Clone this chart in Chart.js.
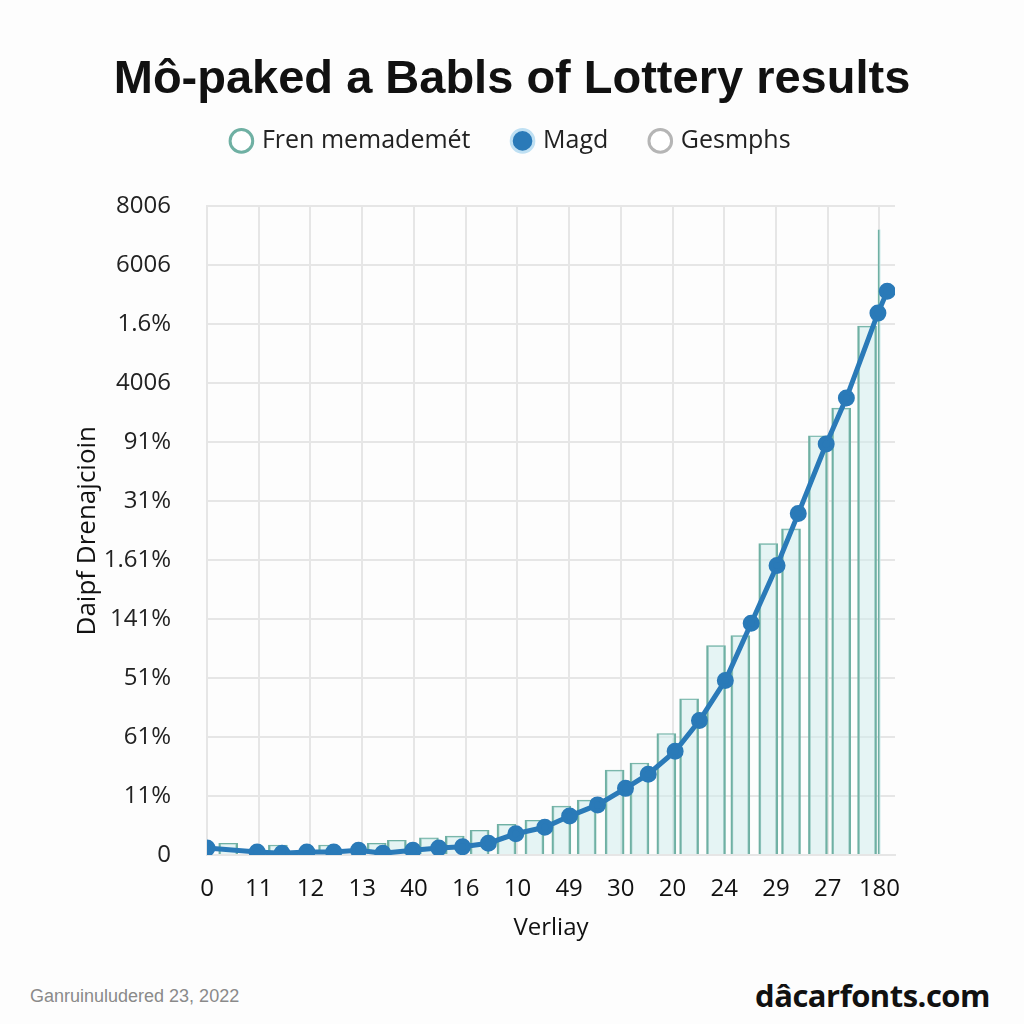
<!DOCTYPE html>
<html>
<head>
<meta charset="utf-8">
<script src="https://cdn.jsdelivr.net/npm/chart.js@4.4.1/dist/chart.umd.min.js"></script>
<style>
  html, body { margin: 0; padding: 0; background: #fdfdfd; }
  #wrap { position: relative; width: 1024px; height: 1024px; }
  #chart { position: absolute; left: 0; top: 0; }
  .foot-left { position: absolute; left: 30px; top: 986px; font: 18px "Liberation Sans", Arial, sans-serif; color: #8a8a8a; }
  .foot-right { position: absolute; right: 34px; top: 974px; font: bold 31px "Open Sans", "Liberation Sans", sans-serif; color: #111; letter-spacing: -0.5px; }
</style>
</head>
<body>
<div id="wrap">
  <canvas id="chart" width="1024" height="960"></canvas>
  <div class="foot-left">Ganruinuludered 23, 2022</div>
  <div class="foot-right">dâcarfonts.com</div>
</div>
<script>
// tick labels (bottom -> top, left -> right)
const yLabels = ['0', '11%', '61%', '51%', '141%', '1.61%', '31%', '91%', '4006', '1.6%', '6006', '8006'];
const xLabels = ['0', '11', '12', '13', '40', '16', '10', '49', '30', '20', '24', '29', '27', '180'];

// Magd line (x in tick positions, y in grid steps)
const magdX = [0, 0.97, 1.45, 1.93, 2.45, 2.93, 3.4, 3.98, 4.48, 4.94, 5.44, 5.97, 6.53, 7.01, 7.55, 8.09, 8.53, 9.05, 9.52, 10.02, 10.52, 11.02, 11.43, 11.97, 12.36, 12.97, 13.15];
const magdY = [0.12, 0.05, 0.03, 0.05, 0.05, 0.08, 0.03, 0.08, 0.12, 0.14, 0.2, 0.36, 0.47, 0.66, 0.85, 1.13, 1.37, 1.76, 2.28, 2.96, 3.93, 4.91, 5.79, 6.97, 7.75, 9.19, 9.56];

// Fren memademét bars
const frenX = [0.41, 1.37, 2.34, 3.28, 3.67, 4.29, 4.79, 5.27, 5.79, 6.33, 6.85, 7.34, 7.88, 8.36, 8.88, 9.32, 9.84, 10.31, 10.85, 11.29, 11.81, 12.26, 12.76];
const frenY = [0.2, 0.17, 0.17, 0.2, 0.25, 0.29, 0.32, 0.42, 0.52, 0.59, 0.83, 0.93, 1.44, 1.56, 2.06, 2.65, 3.55, 3.72, 5.28, 5.53, 7.11, 7.58, 8.97];

// thin spike at the right end
const spikeX = [13.0];
const spikeY = [10.61];

const TEAL = '#6fb0a3';
const BLUE = '#2a7ab8';
const GRAY = '#b5b5b5';

const pts = (xs, ys) => xs.map((x, i) => ({ x: x, y: ys[i] }));

// legend: wide spacing between items but not much above/below
const LEGEND_PAD = 44;
const legendGap = {
    id: 'legendGap',
    beforeInit(chart) {
        const fit = chart.legend.fit;
        chart.legend.fit = function () {
            fit.bind(chart.legend)();
            this.height += 19;
        };
    },
    afterLayout(chart) {
        chart.legend.top -= LEGEND_PAD - 20;
    }
};

new Chart(document.getElementById('chart'), {
    data: {
        datasets: [
            {
                type: 'bar', label: 'Fren memademét', data: pts(frenX, frenY),
                backgroundColor: 'rgba(205,236,236,0.5)', borderColor: TEAL,
                borderWidth: { left: 2, right: 2, top: 1, bottom: 0 }, borderSkipped: 'bottom',
                barThickness: 19, grouped: false, order: 2
            },
            {
                type: 'line', label: 'Magd', data: pts(magdX, magdY),
                borderColor: BLUE, backgroundColor: BLUE, borderWidth: 5,
                pointRadius: 6, pointBackgroundColor: BLUE, pointBorderColor: BLUE,
                tension: 0, order: 0
            },
            {
                type: 'line', label: 'Gesmphs', data: [],
                borderColor: GRAY, backgroundColor: '#fff', order: 3
            },
            {
                type: 'bar', label: 'spike', data: pts(spikeX, spikeY),
                backgroundColor: 'rgba(205,236,236,0.5)', borderColor: TEAL,
                borderWidth: { left: 2, right: 0, top: 0, bottom: 0 }, borderSkipped: 'bottom',
                barThickness: 3, grouped: false, order: 1
            }
        ]
    },
    options: {
        responsive: false,
        animation: false,
        layout: { padding: { left: 30, right: 30, top: 52, bottom: 0 } },
        plugins: {
            title: {
                display: true,
                text: 'Mô-paked a Babls of Lottery results',
                color: '#111',
                font: { family: '"Liberation Sans", Arial, sans-serif', size: 47, weight: 'bold' },
                padding: { top: 0, bottom: 0 }
            },
            legend: {
                position: 'top',
                labels: {
                    color: '#222',
                    font: { family: '"Open Sans", sans-serif', size: 25 },
                    usePointStyle: true, boxWidth: 16, boxHeight: 16, padding: LEGEND_PAD,
                    generateLabels: () => [
                        { text: 'Fren memademét', fillStyle: '#fff', strokeStyle: TEAL, lineWidth: 3, pointStyle: 'circle', datasetIndex: 0, fontColor: '#222' },
                        { text: 'Magd', fillStyle: BLUE, strokeStyle: '#bfe0f3', lineWidth: 3, pointStyle: 'circle', datasetIndex: 1, fontColor: '#222' },
                        { text: 'Gesmphs', fillStyle: '#fff', strokeStyle: GRAY, lineWidth: 3, pointStyle: 'circle', datasetIndex: 2, fontColor: '#222' }
                    ]
                }
            },
            tooltip: { enabled: false }
        },
        scales: {
            x: {
                type: 'linear', min: 0, max: 13.3, offset: false,
                afterBuildTicks: (axis) => { axis.ticks = xLabels.map((_, i) => ({ value: i })); },
                afterFit: (axis) => { axis.height = 105; },
                grid: { color: '#e6e6e6', lineWidth: 2, drawTicks: false, offset: false },
                border: { color: '#e6e6e6', width: 2 },
                ticks: {
                    color: '#111', padding: 20, maxRotation: 0, autoSkip: false,
                    font: { family: '"Open Sans", sans-serif', size: 24 },
                    callback: (v) => xLabels[v]
                },
                title: {
                    display: true, text: 'Verliay', color: '#111',
                    font: { family: '"Open Sans", sans-serif', size: 24 }, padding: { top: 4, bottom: 17 }
                }
            },
            y: {
                type: 'linear', min: 0, max: 11,
                afterBuildTicks: (axis) => { axis.ticks = yLabels.map((_, i) => ({ value: i })); },
                afterFit: (axis) => { axis.width = 177; },
                grid: { color: '#e6e6e6', lineWidth: 2, drawTicks: false },
                border: { color: '#e6e6e6', width: 2 },
                ticks: {
                    color: '#222', padding: 36, autoSkip: false,
                    font: { family: '"Open Sans", sans-serif', size: 24 },
                    callback: (v) => yLabels[v]
                },
                title: {
                    display: true, text: 'Daipf Drenajcioin', color: '#111',
                    font: { family: '"Open Sans", sans-serif', size: 26 }, padding: { top: 42, bottom: 0 }
                }
            },
            yRight: {
                type: 'linear', position: 'right', display: true,
                afterFit: (axis) => { axis.width = 99; },
                grid: { display: false },
                border: { display: false },
                ticks: { display: false }
            }
        }
    },
    plugins: [legendGap]
});
</script>
</body>
</html>
